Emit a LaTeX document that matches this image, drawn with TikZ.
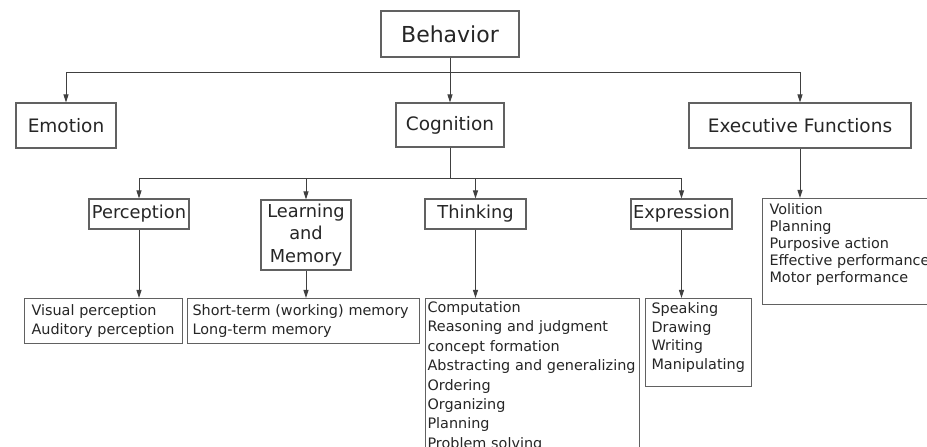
\documentclass[tikz,border=0pt]{standalone}
\usepackage{fontspec}
\setmainfont{DejaVu Sans}
\usetikzlibrary{arrows.meta}
\definecolor{boxline}{gray}{0.38}
\definecolor{txt}{gray}{0.15}
\newcommand{\lowpad}[1]{\rule[-#1]{0pt}{#1}}
\hyphenpenalty=10000
\exhyphenpenalty=10000
\begin{document}
\begin{tikzpicture}[x=1bp,y=-1bp,
  box/.style={draw=boxline, line width=1.1bp, inner sep=0pt, text=txt, align=center},
  topbox/.style={box, font=\fontsize{22bp}{26bp}\selectfont},
  lvlone/.style={box, font=\fontsize{18.5bp}{22bp}\selectfont},
  lvltwo/.style={box, font=\fontsize{17.8bp}{22.5bp}\selectfont},
  listbox/.style={draw=boxline, line width=1.1bp, text=txt, align=left, anchor=north west, inner xsep=3bp, inner ysep=3bp},
  conn/.style={draw=black!75, line width=1bp, -{Triangle[length=8bp,width=5bp]}}
]
\useasboundingbox (0,0) rectangle (927,447);
\clip (0,0) rectangle (927,447);
\fill[white] (0,0) rectangle (927,447);

\node[topbox, minimum width=138bp, minimum height=46bp] (beh) at (450,34) {Behavior};
\node[lvlone, minimum width=100bp, minimum height=45bp] (emo) at (66,125.5) {Emotion};
\node[lvlone, minimum width=108bp, minimum height=44bp] (cog) at (450,125) {Cognition};
\node[lvlone, minimum width=222bp, minimum height=45bp] (exe) at (800,125.5) {Executive Functions};

\node[lvltwo, minimum width=100bp, minimum height=30bp] (per) at (139,214) {Perception};
\node[lvltwo, minimum width=90bp, minimum height=70bp] (lea) at (306,235) {Learning\\and\\Memory};
\node[lvltwo, minimum width=101bp, minimum height=30bp] (thi) at (475.5,214) {Thinking};
\node[lvltwo, minimum width=101bp, minimum height=30bp] (exp) at (681.5,214) {Expression};

\node[listbox, inner xsep=7bp, text width=144bp, minimum height=45bp, font=\fontsize{14.4bp}{19bp}\selectfont] (vis) at (24,298) {Visual~perception\\Auditory~perception};
\node[listbox, inner xsep=5bp, text width=222bp, minimum height=45bp, font=\fontsize{14.4bp}{19bp}\selectfont] (stm) at (187,298) {Short-term~(working)~memory\\Long-term~memory};
\node[listbox, inner xsep=2bp, text width=210bp, font=\fontsize{14.4bp}{19.4bp}\selectfont] (tls) at (425,298) {Computation\\Reasoning~and~judgment\\concept~formation\\Abstracting~and~generalizing\\Ordering\\Organizing\\Planning\\Problem~solving};
\node[listbox, inner xsep=6bp, inner ysep=4bp, text width=94bp, font=\fontsize{14.4bp}{18.7bp}\selectfont] (els) at (645,298) {Speaking\\Drawing\\Writing\\Manipulating\lowpad{13bp}};
\node[listbox, inner xsep=7bp, inner ysep=5bp, text width=190bp, font=\fontsize{14.4bp}{17bp}\selectfont] (xls) at (762,198) {Volition\\Planning\\Purposive~action\\Effective~performance\\Motor~performance\lowpad{17bp}};

\draw[conn] (beh.south) -- ++(0,15) -| (emo.north);
\draw[conn] (beh.south) -- (cog.north);
\draw[conn] (beh.south) -- ++(0,15) -| (exe.north);

\draw[conn] (cog.south) -- ++(0,31) -| (per.north);
\draw[conn] (cog.south) -- ++(0,31) -| (lea.north);
\draw[conn] (cog.south) -- ++(0,31) -| (thi.north);
\draw[conn] (cog.south) -- ++(0,31) -| (exp.north);

\draw[conn] (per.south) -- (per.south |- vis.north);
\draw[conn] (lea.south) -- (lea.south |- stm.north);
\draw[conn] (thi.south) -- (thi.south |- tls.north);
\draw[conn] (exp.south) -- (exp.south |- els.north);
\draw[conn] (exe.south) -- (exe.south |- xls.north);
\end{tikzpicture}
\end{document}
